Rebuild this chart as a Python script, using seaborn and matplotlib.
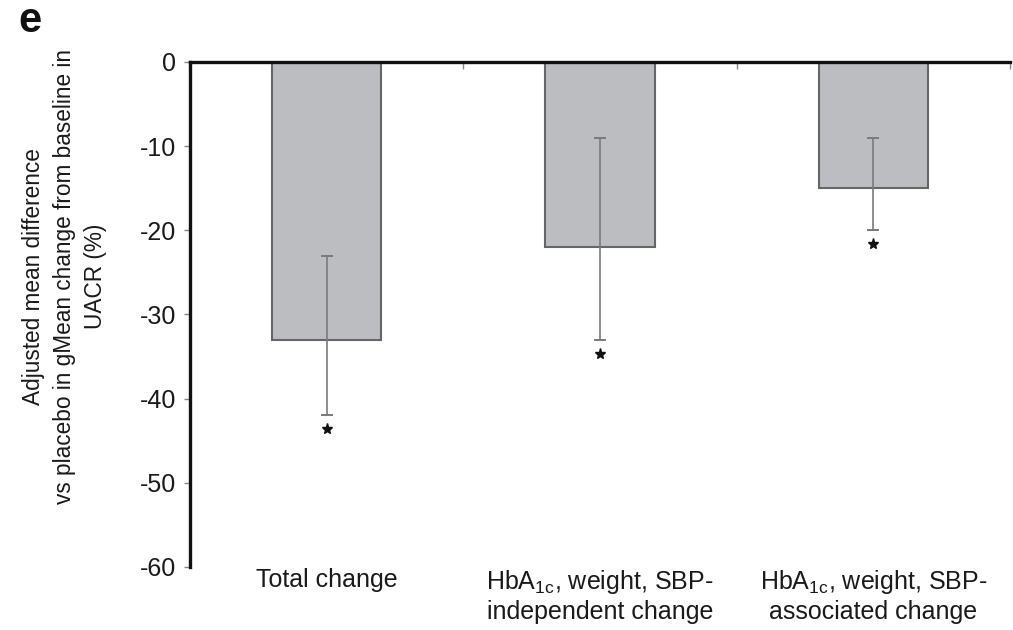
import matplotlib
matplotlib.use("Agg")
import matplotlib.pyplot as plt
import matplotlib.transforms as mtransforms
import seaborn as sns
import pandas as pd

# Adjusted mean difference vs placebo in UACR change (%)
categories = [
    "Total change",
    "HbA$_{\\mathrm{1c}}$, weight, SBP-\nindependent change",
    "HbA$_{\\mathrm{1c}}$, weight, SBP-\nassociated change",
]
means = [-33, -22, -15]
ci_upper = [-23, -9, -9]
ci_lower = [-42, -33, -20]
y_ticks = [0, -10, -20, -30, -40, -50, -60]

sns.set_theme(style="white")
plt.rcParams["font.family"] = ["Liberation Sans", "DejaVu Sans"]
plt.rcParams["mathtext.fontset"] = "custom"
plt.rcParams["mathtext.rm"] = "Liberation Sans"
plt.rcParams["mathtext.it"] = "Liberation Sans:italic"

df = pd.DataFrame({"category": categories, "mean": means})

fig = plt.figure(figsize=(10.13, 6.3), dpi=100)
ax = fig.add_axes([0.1876, 0.100, 0.8094, 0.8016])

sns.barplot(data=df, x="category", y="mean", order=categories, width=0.4,
            color="#bcbdc0", saturation=1, edgecolor="#666666", linewidth=1.5,
            errorbar=None, ax=ax)

xs = list(range(len(categories)))
lower_err = [m - lo for m, lo in zip(means, ci_lower)]
upper_err = [hi - m for m, hi in zip(means, ci_upper)]
ax.errorbar(xs, means, yerr=[lower_err, upper_err], fmt="none",
            ecolor="#7a7a7a", elinewidth=1.2, capsize=4, capthick=1.4, zorder=3)

# significance markers just below each lower limit
star_offset = mtransforms.ScaledTranslation(0, -14 / 100, fig.dpi_scale_trans)
for x, lo in zip(xs, ci_lower):
    ax.plot(x, lo, marker="*", markersize=8, color="#111111", linestyle="none",
            transform=ax.transData + star_offset, clip_on=False, zorder=4)

ax.set_xlim(-0.5, 2.5)
ax.set_ylim(-60, 0)
ax.set_yticks(y_ticks)
ax.set_yticklabels([str(t) for t in y_ticks])

for side in ["right", "bottom"]:
    ax.spines[side].set_visible(False)
for side in ["left", "top"]:
    ax.spines[side].set_visible(True)
    ax.spines[side].set_color("#111111")
    ax.spines[side].set_linewidth(2.4)

ax.tick_params(axis="y", direction="out", length=4, width=1, color="#888888",
               labelsize=18, pad=6, labelcolor="#1a1a1a", left=True)
ax.tick_params(axis="x", length=0, labelsize=18, pad=1, labelcolor="#1a1a1a")
ax.set_xlabel("")

# category separators hanging from the zero line
sec = ax.secondary_xaxis("top")
sec.set_xticks([0.5, 1.5, 2.5])
sec.set_xticklabels(["", "", ""])
sec.tick_params(direction="in", length=5, width=1, color="#888888")
sec.spines["top"].set_visible(False)

ax.set_ylabel("Adjusted mean difference\nvs placebo in gMean change from baseline in\nUACR (%)",
              fontsize=16.3, linespacing=1.45, color="#1a1a1a")
ax.yaxis.set_label_coords(-0.101, 0.576)

fig.text(0.030, 0.966, "e", fontsize=30, fontweight="bold", ha="center", va="center",
         color="#111111")

fig.savefig("out.png", dpi=100)
